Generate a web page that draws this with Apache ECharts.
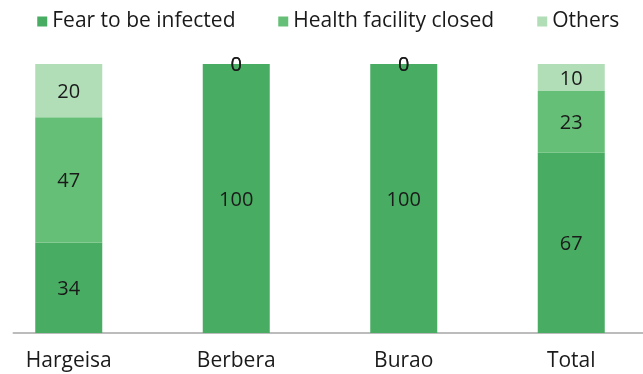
<!DOCTYPE html>
<html>
<head>
<meta charset="utf-8">
<script src="https://cdn.jsdelivr.net/npm/echarts@6/dist/echarts.min.js"></script>
<style>
  html, body { margin: 0; padding: 0; background: #ffffff; overflow: hidden; }
  /* the plot bands run slightly past both window edges */
  #chart { width: 670px; height: 374px; margin-left: -15.25px; }
</style>
</head>
<body>
<div id="chart"></div>
<script>
// Reasons given, per region (percent of respondents)
const categories = ['Hargeisa', 'Berbera', 'Burao', 'Total'];
const seriesNames = ['Fear to be infected', 'Health facility closed', 'Others'];
const fearInfected = [34, 100, 100, 67];
const facilityClosed = [47, 0, 0, 23];
const others = [20, 0, 0, 10];

const colors = ['#48AD62', '#66BF77', '#B1DDB7'];
const FONT = 'Open Sans';
const SHIFT = 15.25; // container offset to the left
const legendLeft = [37, 278, 537];

// 100% stacked: each segment height is its share of the column total,
// while the label keeps the reported value.
const groups = [fearInfected, facilityClosed, others];
const totals = categories.map((_, i) => groups.reduce((s, g) => s + g[i], 0));

const series = groups.map((vals, k) => ({
  name: seriesNames[k],
  type: 'bar',
  stack: 'share',
  barWidth: 67,
  xAxisIndex: 0,
  yAxisIndex: 0,
  itemStyle: { color: colors[k] },
  label: {
    show: true,
    position: 'inside',
    offset: [0, 1.5],
    color: '#1a1a1a',
    fontFamily: FONT,
    fontSize: 20,
    formatter: p => String(p.data.raw)
  },
  data: vals.map((v, i) => ({ value: v / totals[i] * 100, raw: v }))
}));

const legends = seriesNames.map((name, k) => ({
  top: 11,
  left: legendLeft[k] + SHIFT,
  padding: 0,
  itemWidth: 10,
  itemHeight: 10,
  icon: 'rect',
  textStyle: { fontFamily: FONT, fontSize: 21, color: '#1a1a1a' },
  data: [name]
}));

const chart = echarts.init(document.getElementById('chart'));
chart.setOption({
  animation: false,
  color: colors,
  legend: legends,
  grid: [
    { left: 0, right: 0, top: 64, bottom: 41 },
    { left: 13 + SHIFT, right: 0, top: 64, bottom: 41 }
  ],
  xAxis: [
    {
      type: 'category',
      gridIndex: 0,
      data: categories,
      axisLine: { show: false },
      axisTick: { show: false },
      axisLabel: {
        margin: 18,
        fontFamily: FONT,
        fontSize: 21,
        color: '#1a1a1a'
      }
    },
    {
      type: 'category',
      gridIndex: 1,
      data: [''],
      axisLine: { show: true, lineStyle: { color: '#A6A6A6', width: 1.5 } },
      axisTick: { show: false },
      axisLabel: { show: false }
    }
  ],
  yAxis: [
    { type: 'value', gridIndex: 0, min: 0, max: 100, show: false },
    { type: 'value', gridIndex: 1, min: 0, max: 100, show: false }
  ],
  series: series
});
</script>
</body>
</html>
